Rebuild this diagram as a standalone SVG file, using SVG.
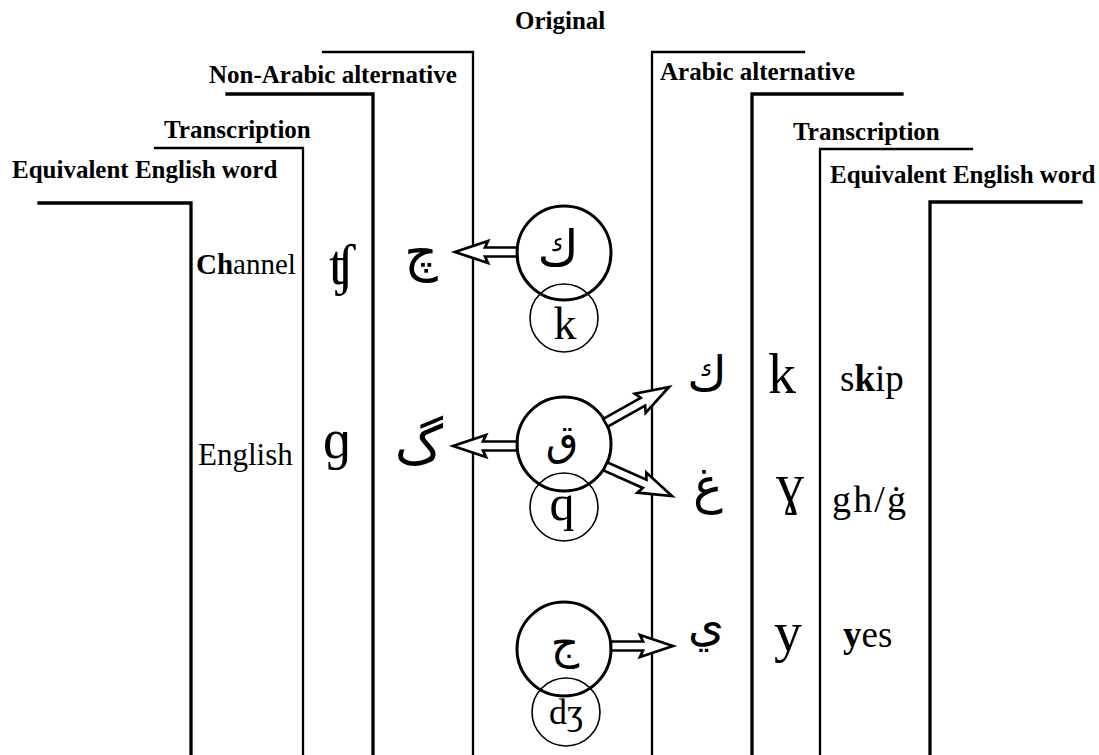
<svg xmlns="http://www.w3.org/2000/svg" width="1099" height="755" viewBox="0 0 1099 755">
  <style>
    .bg { fill: #ffffff; }
    .bracket { fill: none; stroke: #000; stroke-linecap: square; stroke-linejoin: miter; }
    .thick { stroke-width: 3.3; }
    .thin { stroke-width: 2.3; }
    .head { font-family: "Liberation Serif", "Times New Roman", serif; font-weight: bold; font-size: 25px; fill: #000; }
    .word { font-family: "Liberation Serif", "Times New Roman", serif; fill: #000; }
    .ipa { font-family: "Liberation Serif", "DejaVu Serif", serif; font-size: 56px; fill: #000; text-anchor: middle; }
    .ar { font-family: "DejaVu Sans", "Noto Sans", sans-serif; fill: #000; text-anchor: middle; }
    .big { fill: none; stroke: #000; stroke-width: 3; }
    .small { fill: none; stroke: #000; stroke-width: 1.6; }
    .inner { font-family: "Liberation Serif", "DejaVu Serif", serif; fill: #000; text-anchor: middle; }
    .arrow { fill: #fff; stroke: #000; stroke-width: 2.7; stroke-linejoin: miter; }
  </style>

  <rect class="bg" x="0" y="0" width="1099" height="755"/>

  <!-- column brackets with their headings -->
  <g id="col-left-word">
    <path class="bracket thick" d="M39,203 H191 V757"/>
    <text class="head" x="12" y="178">Equivalent English word</text>
  </g>
  <g id="col-left-transcription">
    <path class="bracket thin" d="M155,148 H303 V757"/>
    <text class="head" x="164" y="138">Transcription</text>
  </g>
  <g id="col-non-arabic">
    <path class="bracket thick" d="M227,94 H373 V757"/>
    <text class="head" x="209" y="83">Non-Arabic alternative</text>
  </g>
  <g id="col-original">
    <path class="bracket thin" d="M323,52 H473 V757"/>
    <text class="head" x="515" y="29">Original</text>
  </g>
  <g id="col-arabic">
    <path class="bracket thin" d="M804,52 H652 V757"/>
    <text class="head" x="660" y="80">Arabic alternative</text>
  </g>
  <g id="col-right-transcription">
    <path class="bracket thick" d="M902,94 H752 V757"/>
    <text class="head" x="793" y="140">Transcription</text>
  </g>
  <g id="col-right-word">
    <path class="bracket thin" d="M972,149 H820 V757"/>
    <text class="head" x="830" y="183">Equivalent English word</text>
  </g>
  <g id="col-right-end">
    <path class="bracket thick" d="M1081,202 H930 V757"/>
  </g>

  <!-- left-hand entries -->
  <g id="row-ch-left">
    <text class="word" x="196" y="274" font-size="29"><tspan font-weight="bold">Ch</tspan>annel</text>
    <text class="ipa" x="342" y="284" font-size="63">ʧ</text>
    <text class="ar" x="421" y="270" font-size="52">چ</text>
  </g>
  <g id="row-g-left">
    <text class="word" x="198" y="465" font-size="31">English</text>
    <text class="ipa" x="337" y="458">ɡ</text>
    <text class="ar" x="419" y="464" font-size="54">گ</text>
  </g>

  <!-- original letters -->
  <g id="node-kaf">
    <circle class="big" cx="564" cy="253" r="47"/>
    <text class="ar" x="558" y="266" font-size="50">ك</text>
  </g>
  <g id="node-k">
    <circle class="small" cx="564" cy="318" r="34"/>
    <text class="inner" x="565" y="339" font-size="46">k</text>
  </g>
  <g id="node-qaf">
    <circle class="big" cx="564" cy="444" r="47"/>
    <text class="ar" x="562" y="455" font-size="42">ق</text>
  </g>
  <g id="node-q">
    <circle class="small" cx="564" cy="507" r="34"/>
    <text class="inner" x="562" y="520" font-size="50">q</text>
  </g>
  <g id="node-jim">
    <circle class="big" cx="564" cy="649" r="47"/>
    <text class="ar" x="565" y="658" font-size="44">ج</text>
  </g>
  <g id="node-dzh">
    <circle class="small" cx="566" cy="712" r="34"/>
    <text class="inner" x="566" y="724" font-size="36">dʒ</text>
  </g>

  <!-- right-hand entries -->
  <g id="row-k-right">
    <text class="ar" x="707" y="390" font-size="48">ك</text>
    <text class="ipa" x="782" y="393">k</text>
    <text class="word" x="840" y="391" font-size="37">s<tspan font-weight="bold">k</tspan>ip</text>
  </g>
  <g id="row-gh-right">
    <text class="ar" x="708" y="503" font-size="50">غ</text>
    <text class="ipa" x="790" y="503" font-size="68">ɣ</text>
    <text class="word" x="832" y="512" font-size="38" textLength="74" lengthAdjust="spacing">gh/ġ</text>
  </g>
  <g id="row-y-right">
    <text class="ar" x="706" y="641" font-size="46">ي</text>
    <text class="ipa" x="788" y="651">y</text>
    <text class="word" x="843" y="647" font-size="37"><tspan font-weight="bold">y</tspan>es</text>
  </g>

  <!-- hollow double-line arrows -->
  <g id="connectors">
    <path class="arrow" transform="translate(455,252) rotate(180)" d="M0,0 L-33,-11 L-30,-4.5 L-62,-4.5 L-62,4.5 L-30,4.5 L-33,11 Z"/>
    <path class="arrow" transform="translate(453,446) rotate(180)" d="M0,0 L-33,-11 L-30,-4.5 L-64,-4.5 L-64,4.5 L-30,4.5 L-33,11 Z"/>
    <path class="arrow" transform="translate(669,387) rotate(-29.4)" d="M0,0 L-33,-11 L-30,-4.5 L-73,-4.5 L-73,4.5 L-30,4.5 L-33,11 Z"/>
    <path class="arrow" transform="translate(672,496) rotate(24)" d="M0,0 L-33,-11 L-30,-4.5 L-73,-4.5 L-73,4.5 L-30,4.5 L-33,11 Z"/>
    <path class="arrow" transform="translate(673,646)" d="M0,0 L-33,-11 L-30,-4.5 L-62,-4.5 L-62,4.5 L-30,4.5 L-33,11 Z"/>
  </g>
</svg>
